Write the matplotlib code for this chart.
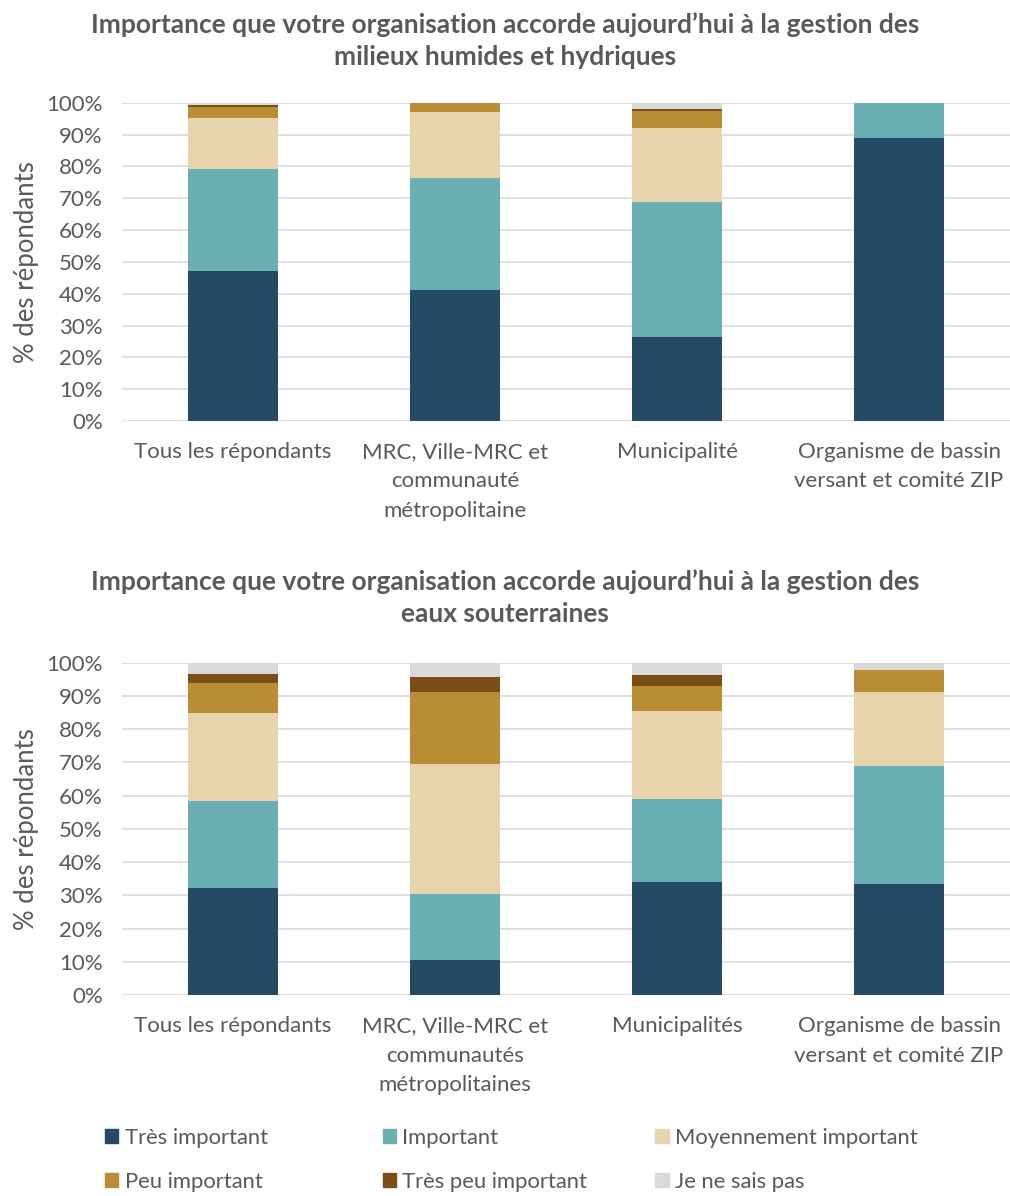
import matplotlib.pyplot as plt
from matplotlib.patches import Patch
import numpy as np

# responses per group, in percent
series_names = ["Très important", "Important", "Moyennement important",
                "Peu important", "Très peu important", "Je ne sais pas"]
colors = ["#244A66", "#6AAFB4", "#E8D3AC", "#B88D36", "#7A4E14", "#D9D9D9"]

cats_humides = ["Tous les répondants", "MRC, Ville-MRC et\ncommunauté\nmétropolitaine",
                "Municipalité", "Organisme de bassin\nversant et comité ZIP"]
humides = [
    [47.2, 41.2, 26.4, 88.9],   # Très important
    [32.0, 35.3, 42.5, 11.1],   # Important
    [16.0, 20.6, 23.2, 0.0],    # Moyennement important
    [3.5, 2.9, 5.4, 0.0],       # Peu important
    [0.6, 0.0, 0.5, 0.0],       # Très peu important
    [0.7, 0.0, 2.0, 0.0],       # Je ne sais pas
]

cats_souterraines = ["Tous les répondants", "MRC, Ville-MRC et\ncommunautés\nmétropolitaines",
                     "Municipalités", "Organisme de bassin\nversant et comité ZIP"]
souterraines = [
    [32.1, 10.5, 33.9, 33.3],
    [26.2, 19.8, 25.0, 35.6],
    [26.4, 39.1, 26.4, 22.2],
    [9.2, 21.9, 7.8, 6.7],
    [2.7, 4.3, 3.3, 0.0],
    [3.4, 4.4, 3.6, 2.2],
]

title_humides = "Importance que votre organisation accorde aujourd’hui à la gestion des\nmilieux humides et hydriques"
title_souterraines = "Importance que votre organisation accorde aujourd’hui à la gestion des\neaux souterraines"

plt.rcParams['font.family'] = ['Lato', 'DejaVu Sans']
txt = "#595959"


def draw_stack(ax, cats, data):
    x = np.arange(len(cats))
    bottom = np.zeros(len(cats))
    for vals, c in zip(data, colors):
        vals = np.array(vals)
        ax.bar(x, vals, 0.405, bottom=bottom, color=c, zorder=3)
        bottom += vals
    ax.set_xlim(-0.5, len(cats) - 0.5)
    ax.set_ylim(0, 100)
    ax.set_yticks(np.arange(0, 101, 10))
    ax.set_yticklabels([f"{v}%" for v in range(0, 101, 10)])
    ax.set_xticks(x)
    ax.set_xticklabels(cats, linespacing=1.6)
    ax.grid(axis="y", color="#D9D9D9", linewidth=1.2, zorder=0)
    for s in ax.spines.values():
        s.set_visible(False)
    ax.tick_params(length=0, labelsize=16, colors=txt)
    ax.tick_params(axis="y", pad=14)
    ax.tick_params(axis="x", pad=15)
    ax.set_ylabel("% des répondants", fontsize=18.5, color=txt, labelpad=5)


fig = plt.figure(figsize=(10.1, 11.96), dpi=100)

ax1 = fig.add_axes([0.121, 0.648, 0.879, 0.266])
draw_stack(ax1, cats_humides, humides)
fig.text(0.5, 0.966, title_humides, ha="center", va="center", fontsize=19,
         fontweight="bold", color=txt, linespacing=1.4)

ax2 = fig.add_axes([0.121, 0.168, 0.879, 0.278])
draw_stack(ax2, cats_souterraines, souterraines)
fig.text(0.5, 0.500, title_souterraines, ha="center", va="center", fontsize=19,
         fontweight="bold", color=txt, linespacing=1.4)

# legend: three columns of two entries
handles = [Patch(color=c) for c in colors]
col_x = [0.093, 0.368, 0.638]
for k, x0 in enumerate(col_x):
    idx = [k, k + 3]
    fig.legend([handles[i] for i in idx], [series_names[i] for i in idx],
               loc="upper left", bbox_to_anchor=(x0, 0.066), frameon=False,
               fontsize=15.8, labelcolor=txt, handlelength=0.6, handleheight=0.6,
               handletextpad=0.3, labelspacing=1.1, borderpad=0)

fig.savefig("out.png", dpi=100)
